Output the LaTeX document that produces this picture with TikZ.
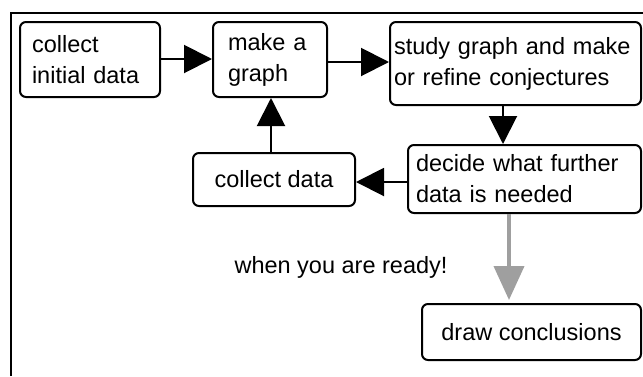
\documentclass[tikz,border=0pt]{standalone}
\usepackage{fontspec}
\setmainfont{Liberation Sans}
\usetikzlibrary{arrows.meta}
\tikzset{
  stepbox/.style={draw=black, line width=2pt, rounded corners=6pt, inner sep=0pt,
    font=\fontsize{23.5}{31}\selectfont, align=left},
  blackarrow/.style={line width=2pt, -{Triangle[length=28pt,width=28pt]}},
  grayarrow/.style={draw=gray!75, line width=4pt, -{Triangle[length=34pt,width=30pt,fill=gray!75]}},
}
\begin{document}
\begin{tikzpicture}[x=1pt,y=-1pt]
\useasboundingbox (0,0) rectangle (643,376);
\draw[line width=2pt] (11,376) -- (11,13) -- (643,13);
\node[stepbox, minimum width=140pt, minimum height=75pt, text width=116pt] (A) at (90,59.5) {collect\\initial data};
\node[stepbox, minimum width=114pt, minimum height=75pt, text width=84pt] (B) at (270,59.5) {make a\\graph};
\node[stepbox, minimum width=251pt, minimum height=83pt, text width=243pt] (C) at (515.5,63.5) {study graph and make\\or refine conjectures};
\node[stepbox, minimum width=233pt, minimum height=68pt, text width=217pt] (D) at (524.5,179) {decide what further\\data is needed};
\node[stepbox, minimum width=162pt, minimum height=53pt, align=center] (E) at (274,179.5) {collect data};
\node[stepbox, minimum width=219pt, minimum height=56pt, align=center] (F) at (531.5,332) {draw conclusions};
\node[font=\fontsize{23.5}{31}\selectfont, inner sep=0pt] (R) at (341,267) {when you are ready!};
\draw[blackarrow] (A.east |- 0,59) -- (B.west |- 0,59);
\draw[blackarrow] (B.east |- 0,62) -- (C.west |- 0,62);
\draw[blackarrow] (C.south -| 503,0) -- (D.north -| 503,0);
\draw[blackarrow] (D.west |- 0,182) -- (E.east |- 0,182);
\draw[blackarrow] (E.north -| 271,0) -- (B.south -| 271,0);
\draw[grayarrow] (D.south -| 509,0) -- ([yshift=3pt]F.north -| 509,0);
\end{tikzpicture}
\end{document}
